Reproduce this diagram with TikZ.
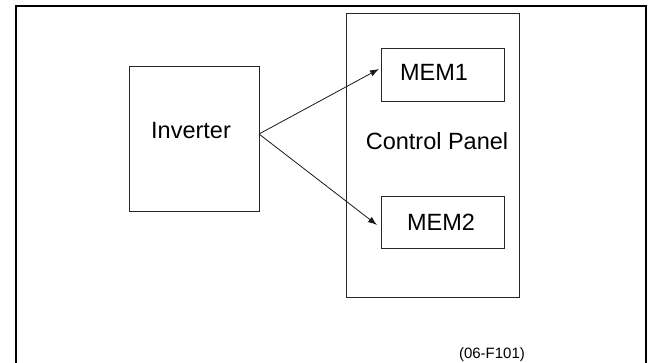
\documentclass[tikz,border=0pt]{standalone}
\usepackage{fontspec}
\setmainfont{Liberation Sans}
\usetikzlibrary{arrows.meta}
\begin{document}
\begin{tikzpicture}[x=1pt,y=-1pt,
  box/.style={draw=black!85,line width=1pt,minimum width=#1,inner sep=0pt,anchor=north west},
  lbl/.style={font=\fontsize{23.5}{28}\selectfont,inner sep=0pt},
  conn/.style={draw=black!90,line width=0.8pt,-{Latex[length=9pt,width=6.5pt]}}]
\useasboundingbox (0,0) rectangle (649,363);
\draw[line width=2.2pt] (16,364) -- (16,6) -- (646,6) -- (646,364);
\node[box=130pt,minimum height=145pt] (inv) at (129,66) {};
\node[box=173pt,minimum height=284pt] (cp) at (346,13) {};
\node[box=123pt,minimum height=53pt] (mem1) at (381,48) {};
\node[box=123pt,minimum height=52pt] (mem2) at (381,196) {};
\node[lbl] (invt) at (191,131) {Inverter};
\node[lbl] (cpt) at (437,141) {Control Panel};
\node[lbl] (m1t) at (434,72) {MEM1};
\node[lbl] (m2t) at (441,222) {MEM2};
\node[font=\fontsize{15}{18}\selectfont,inner sep=0pt] (ref) at (492,355) {(06-F101)};
\coordinate (src) at (259,134);
\coordinate (e1) at (379,69);
\coordinate (e2) at (377,225);
\draw[conn] (src) -- (e1);
\draw[conn] (src) -- (e2);
\end{tikzpicture}
\end{document}
